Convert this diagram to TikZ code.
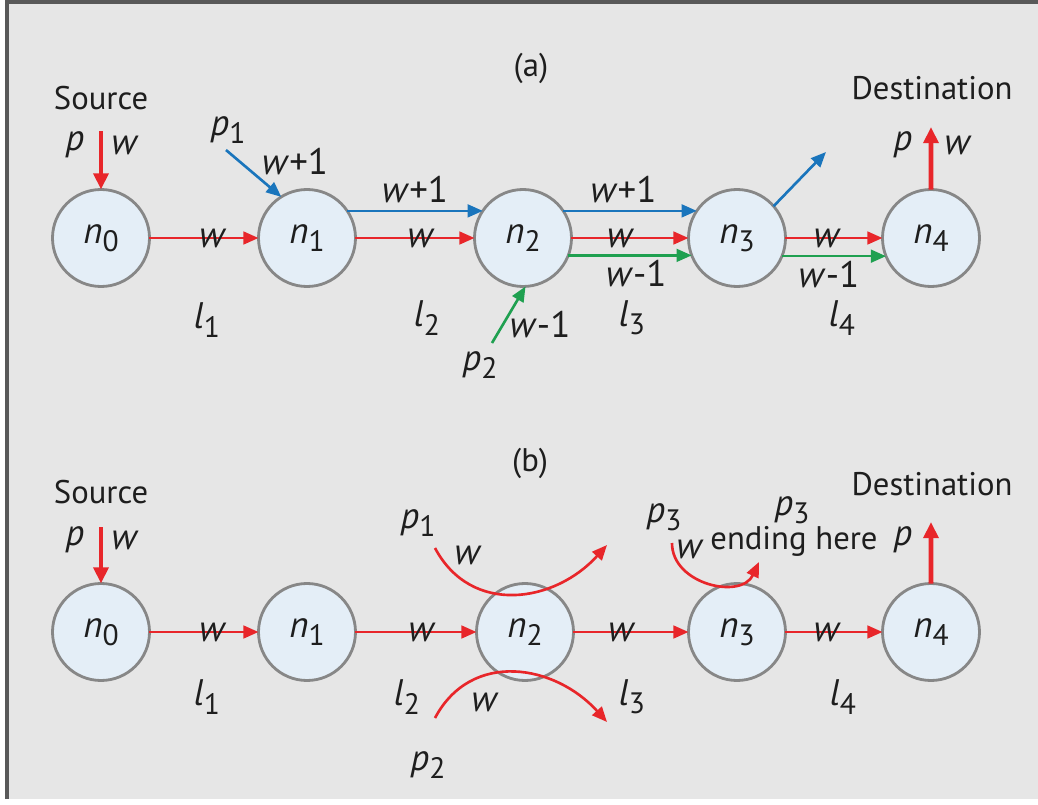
\documentclass[tikz,border=0pt]{standalone}
\usepackage{fontspec}
\setmainfont{PT Sans}
\usepackage{tikz}
\usetikzlibrary{arrows.meta, positioning, calc}
\definecolor{cred}{RGB}{232,38,42}
\definecolor{cblue}{RGB}{26,117,188}
\definecolor{cgreen}{RGB}{31,160,80}
\definecolor{cfill}{RGB}{228,238,247}
\definecolor{cedge}{RGB}{135,135,135}
\definecolor{cback}{RGB}{230,230,230}
\definecolor{ctext}{RGB}{30,30,30}
\newcommand{\vsub}[2]{\textit{#1}\raisebox{-0.45ex}{\scalebox{0.8}{#2}}}

\begin{document}
\begin{tikzpicture}[
  node distance = 1.09cm,
  cnode/.style  = {circle, draw=cedge, fill=cfill, line width=0.8pt,
                   minimum size=0.97cm, inner sep=0pt, outer sep=0pt,
                   text=ctext, font=\fontsize{10.5}{12}\selectfont},
  var/.style    = {inner sep=1pt, text=ctext, font=\fontsize{10.5}{12}\selectfont},
  txt/.style    = {inner sep=1pt, text=ctext, font=\fontsize{9.3}{11}\selectfont},
  arr/.style    = {-{Triangle[length=4.3pt,width=3.6pt]}, line width=0.75pt, #1},
  bigarr/.style = {-{Triangle[length=4.6pt,width=4.2pt]}, line width=1.3pt, cred},
]
\useasboundingbox (0,0) rectangle (10.38,-8.05);
% Frame
\fill[white] (0,0) rectangle (10.38,-8.05);
\fill[cback] (0.07,-0.02) rectangle (10.38,-7.99);
\draw[line width=1.2pt, black!65] (0.07,-7.99) -- (0.07,-0.02) -- (10.38,-0.02);

%%%%% (a)
\node[txt] (ta) at (5.31,-0.68) {(a)};
\node[cnode]                        (a0) at (1.01,-2.38) {\vsub{n}{0}};
\node[cnode, right=1.09cm of a0]    (a1) {\vsub{n}{1}};
\node[cnode, right=1.19cm of a1]    (a2) {\vsub{n}{2}};
\node[cnode, right=1.17cm of a2]    (a3) {\vsub{n}{3}};
\node[cnode, right=0.97cm of a3]    (a4) {\vsub{n}{4}};
% Source / destination
\node[txt] (srca) at (1.01,-0.98) {Source};
\node[txt] (dsta) at (9.32,-0.88) {Destination};
\coordinate (ina)  at (1.01,-1.31);
\coordinate (outa) at (9.31,-1.27);
\draw[bigarr] (ina) -- (a0);
\draw[bigarr] (a4) -- (outa);
\node[var] at (0.75,-1.45) {\textit{p}};
\node[var] at (1.25,-1.45) {\textit{w}};
\node[var] at (9.03,-1.45) {\textit{p}};
\node[var] at (9.58,-1.45) {\textit{w}};
% Links
\draw[arr=cred]   (a0) -- node[var, pos=0.58] {\textit{w}} (a1);
\draw[arr=cred]   (a1) -- node[var, pos=0.55] {\textit{w}} (a2);
\draw[arr=cred]   (a2) -- node[var, pos=0.42] {\textit{w}} (a3);
\draw[arr=cred]   (a3) -- node[var, pos=0.43] {\textit{w}} (a4);
\draw[arr=cblue]  (a1.34) -- node[var, above=1pt] {\textit{w}+1} (a2.146);
\draw[arr=cblue]  (a2.34) -- node[var, above=1pt, pos=0.45] {\textit{w}+1} (a3.146);
\draw[arr=cgreen] (a2.-21) -- node[var, below=0pt, pos=0.55] {\textit{w}-1} (a3.-159);
\draw[arr=cgreen] (a3.-22) -- node[var, below=0pt, pos=0.45] {\textit{w}-1} (a4.-158);
% Joining and leaving flows
\node[var] (p1a) at (2.28,-1.30) {\vsub{p}{1}};
\coordinate (p1s) at (2.26,-1.50);
\draw[arr=cblue] (p1s) -- (a1.122);
\node[var] at (2.95,-1.62) {\textit{w}+1};
\node[var] (p2a) at (4.80,-3.65) {\vsub{p}{2}};
\coordinate (p2s) at (4.92,-3.43);
\draw[arr=cgreen] (p2s) -- (a2.-87);
\node[var] at (5.40,-3.25) {\textit{w}-1};
\coordinate (p1e) at (8.26,-1.52);
\draw[arr=cblue] (a3.41) -- (p1e);
% Link names
\node[var] at (2.07,-3.20) {\vsub{l}{1}};
\node[var] at (4.27,-3.18) {\vsub{l}{2}};
\node[var] at (6.32,-3.18) {\vsub{l}{3}};
\node[var] at (8.42,-3.18) {\vsub{l}{4}};

%%%%% (b)
\node[txt] (tb) at (5.30,-4.63) {(b)};
\node[cnode]                        (b0) at (1.01,-6.32) {\vsub{n}{0}};
\node[cnode, right=1.09cm of b0]    (b1) {\vsub{n}{1}};
\node[cnode, right=1.21cm of b1]    (b2) {\vsub{n}{2}};
\node[cnode, right=1.15cm of b2]    (b3) {\vsub{n}{3}};
\node[cnode, right=0.97cm of b3]    (b4) {\vsub{n}{4}};
% Source / destination
\node[txt] (srcb) at (1.01,-4.92) {Source};
\node[txt] (dstb) at (9.32,-4.84) {Destination};
\coordinate (inb)  at (1.01,-5.27);
\coordinate (outb) at (9.31,-5.22);
\draw[bigarr] (inb) -- (b0);
\draw[bigarr] (b4) -- (outb);
\node[var] at (0.75,-5.40) {\textit{p}};
\node[var] at (1.25,-5.40) {\textit{w}};
\node[var] at (9.03,-5.40) {\textit{p}};
% Links
\draw[arr=cred] (b0) -- node[var, pos=0.58] {\textit{w}} (b1);
\draw[arr=cred] (b1) -- node[var, pos=0.55] {\textit{w}} (b2);
\draw[arr=cred] (b2) -- node[var, pos=0.42] {\textit{w}} (b3);
\draw[arr=cred] (b3) -- node[var, pos=0.43] {\textit{w}} (b4);
% Crossing flows at n2
\node[var] (p1b) at (4.18,-5.23) {\vsub{p}{1}};
\coordinate (c1s) at (4.35,-5.48);
\coordinate (c1e) at (6.07,-5.45);
\draw[arr=cred] (c1s) to[out=-62, in=-132, looseness=1.15] (c1e);
\node[var] at (4.68,-5.55) {\textit{w}};
\node[var] (p2b) at (4.28,-7.65) {\vsub{p}{2}};
\coordinate (c2s) at (4.35,-7.18);
\coordinate (c2e) at (6.07,-7.22);
\draw[arr=cred] (c2s) to[out=62, in=132, looseness=1.15] (c2e);
\node[var] at (4.85,-7.02) {\textit{w}};
% Flow ending at n3
\node[var] (p3b) at (6.64,-5.17) {\vsub{p}{3}};
\node[var] at (6.90,-5.49) {\textit{w}};
\coordinate (c3s) at (6.72,-5.43);
\coordinate (c3e) at (7.59,-5.62);
\draw[arr=cred] (c3s) to[out=-90, in=-115, looseness=1.2] (c3e);
\node[var] (endp) at (7.92,-5.10) {\vsub{p}{3}};
\node[txt] (endt) at (7.94,-5.41) {ending here};
% Link names
\node[var] at (2.07,-6.97) {\vsub{l}{1}};
\node[var] at (4.07,-6.97) {\vsub{l}{2}};
\node[var] at (6.32,-6.97) {\vsub{l}{3}};
\node[var] at (8.43,-6.97) {\vsub{l}{4}};
\end{tikzpicture}
\end{document}
